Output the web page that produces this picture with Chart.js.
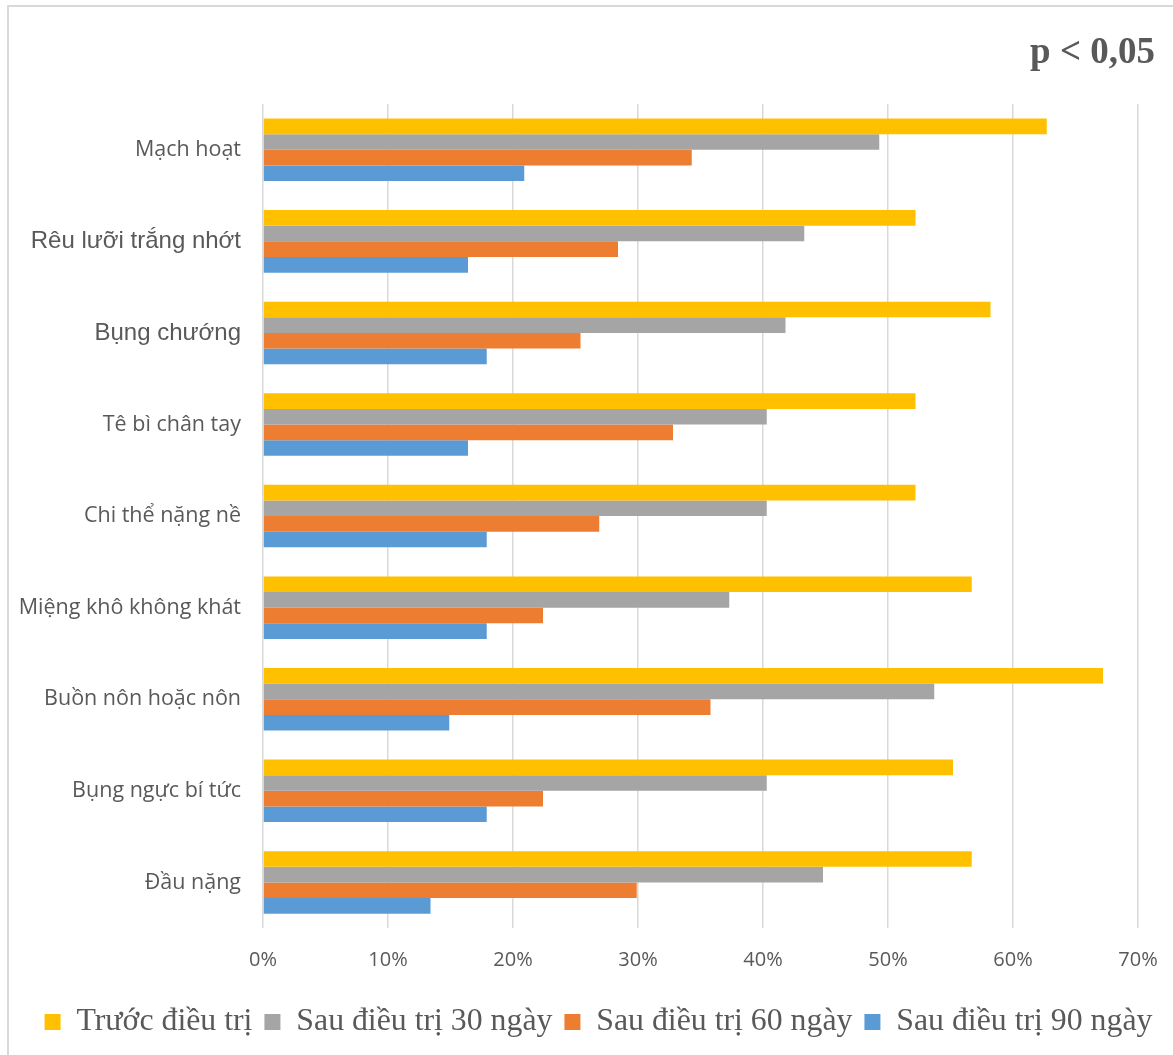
<!DOCTYPE html>
<html lang="vi">
<head>
<meta charset="utf-8">
<title>Triệu chứng trước và sau điều trị</title>
<script src="https://cdn.jsdelivr.net/npm/chart.js@4/dist/chart.umd.min.js"></script>
<style>
    html, body { margin: 0; padding: 0; background: #fff; }
    .khung {
        position: absolute;
        left: 7px;
        top: 5px;
        width: 1166px;
        height: 1050px;
        border-left: 2px solid #D9D9D9;
        border-top: 2px solid #D9D9D9;
    }
    .khung canvas { display: block; }
</style>
</head>
<body>
<div class="khung">
    <canvas id="barChart" width="1164" height="1048"></canvas>
</div>
<script>
// Triệu chứng
const trieuChung = [
    "Mạch hoạt",
    "Rêu lưỡi trắng nhớt",
    "Bụng chướng",
    "Tê bì chân tay",
    "Chi thể nặng nề",
    "Miệng khô không khát",
    "Buồn nôn hoặc nôn",
    "Bụng ngực bí tức",
    "Đầu nặng"
];

// Tỷ lệ (%) theo thời điểm
const truocDieuTri = [62.7, 52.2, 58.2, 52.2, 52.2, 56.7, 67.2, 55.2, 56.7];
const sau30Ngay = [49.3, 43.3, 41.8, 40.3, 40.3, 37.3, 53.7, 40.3, 44.8];
const sau60Ngay = [34.3, 28.4, 25.4, 32.8, 26.9, 22.4, 35.8, 22.4, 29.9];
const sau90Ngay = [20.9, 16.4, 17.9, 16.4, 17.9, 17.9, 14.9, 17.9, 13.4];

const tenSeries = ["Trước điều trị", "Sau điều trị 30 ngày", "Sau điều trị 60 ngày", "Sau điều trị 90 ngày"];
const mauSeries = ["#FFC000", "#A5A5A5", "#ED7D31", "#5B9BD5"];
const vachChia = [0, 10, 20, 30, 40, 50, 60, 70];
const ghiChu = "p < 0,05";

const textColor = "#595959";
const serif = "'Liberation Serif', 'Times New Roman', serif";

// Ghi chú p ở góc trên bên phải
const ghiChuPlugin = {
    id: "ghiChu",
    afterLayout(chart) {
        // dời chú giải sang phải một chút
        if (chart.legend) {
            chart.legend.left += 6;
            chart.legend.right += 6;
        }
    },
    afterDraw(chart) {
        const ctx = chart.ctx;
        const area = chart.chartArea;
        ctx.save();
        ctx.font = "bold 37px " + serif;
        ctx.fillStyle = textColor;
        ctx.textAlign = "right";
        ctx.textBaseline = "alphabetic";
        ctx.fillText(ghiChu, area.right + 17, area.top - 41);
        ctx.restore();
    }
};

window.onload = function () {
    const duLieu = [truocDieuTri, sau30Ngay, sau60Ngay, sau90Ngay];

    new Chart(document.getElementById("barChart"), {
        type: "bar",
        data: {
            labels: trieuChung,
            datasets: duLieu.map((values, i) => ({
                label: tenSeries[i],
                data: values,
                backgroundColor: mauSeries[i],
                borderWidth: 0,
                categoryPercentage: 0.683,
                barPercentage: 1.0
            }))
        },
        plugins: [ghiChuPlugin],
        options: {
            indexAxis: "y",
            responsive: false,
            animation: false,
            layout: {
                padding: { left: 11, right: 8, top: 97, bottom: 7 }
            },
            scales: {
                x: {
                    min: vachChia[0],
                    max: vachChia[vachChia.length - 1],
                    afterBuildTicks: (scale) => {
                        scale.ticks = vachChia.map(v => ({ value: v }));
                    },
                    afterFit: (scale) => {
                        scale.height = 66;
                        scale.paddingRight = 35;
                    },
                    grid: { color: "#D9D9D9", lineWidth: 1.5, drawTicks: false },
                    border: { display: false },
                    ticks: {
                        padding: 20,
                        color: textColor,
                        font: { family: "'Open Sans', sans-serif", size: 20 },
                        callback: v => v + "%"
                    }
                },
                y: {
                    grid: { display: false, drawTicks: false },
                    border: { display: false },
                    afterFit: (scale) => {
                        scale.width = 243;
                    },
                    ticks: {
                        padding: 22,
                        color: textColor,
                        // hai nhãn dùng phông khác
                        font: (ctx) => (ctx.index === 1 || ctx.index === 2)
                            ? { family: "'Liberation Sans', Arial, sans-serif", size: 24 }
                            : { family: "'Open Sans', sans-serif", size: 21.5 }
                    }
                }
            },
            plugins: {
                title: { display: false },
                legend: {
                    position: "bottom",
                    labels: {
                        color: textColor,
                        boxWidth: 16,
                        boxHeight: 16,
                        padding: 12,
                        font: { family: serif, size: 31.8 }
                    }
                },
                tooltip: { enabled: false }
            }
        }
    });
};
</script>
</body>
</html>
